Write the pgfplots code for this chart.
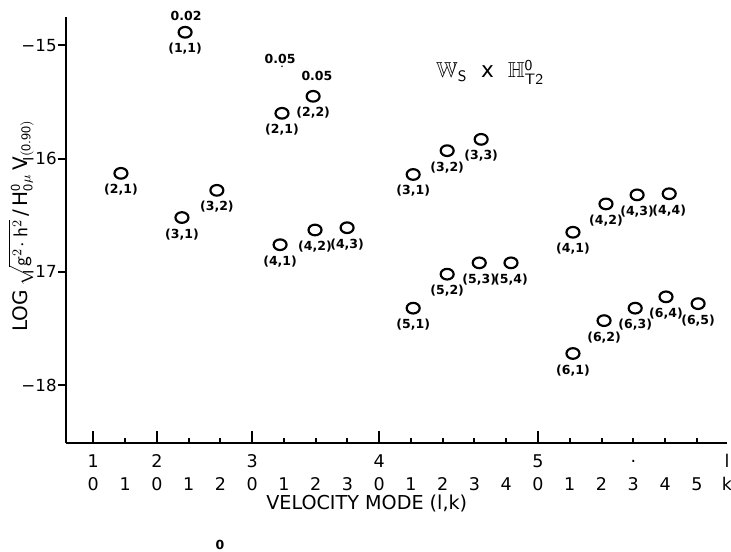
\documentclass[border=0pt]{standalone}
\usepackage{pgfplots}
\pgfplotsset{compat=1.18}
\usepackage{amssymb}
\usepackage{fontspec}
\setmainfont{DejaVu Sans}
% two-row tick label: l on top, k below
\newcommand{\tl}[2]{\begin{tabular}{@{}c@{}}\strut#1\\[1.2pt]\strut#2\end{tabular}}
\newcommand{\lblfont}{\fontsize{7.5}{8}\selectfont\bfseries}

\pgfplotstableread{
x     y       lab
0.87  -16.13  (2,1)
2.89  -14.885 (1,1)
2.79  -16.52  (3,1)
3.89  -16.28  (3,2)
5.94  -15.60  (2,1)
6.92  -15.45  (2,2)
5.88  -16.76  (4,1)
6.98  -16.63  (4,2)
7.99  -16.61  (4,3)
10.07 -16.14  (3,1)
11.14 -15.93  (3,2)
12.21 -15.83  (3,3)
10.07 -17.32  (5,1)
11.14 -17.02  (5,2)
12.15 -16.92  (5,3)
13.15 -16.92  (5,4)
15.10 -16.65  (4,1)
16.14 -16.40  (4,2)
17.12 -16.32  (4,3)
18.13 -16.31  (4,4)
15.10 -17.72  (6,1)
16.08 -17.43  (6,2)
17.06 -17.32  (6,3)
18.03 -17.22  (6,4)
19.04 -17.28  (6,5)
}\modes

\begin{document}
\begin{tikzpicture}
\useasboundingbox (-39.6pt,-65.4pt) rectangle (399pt,265.8pt);
\begin{axis}[
    scale only axis,
    width=396.6pt, height=255.6pt,
    xmin=-0.86, xmax=19.95,
    ymin=-18.51, ymax=-14.75,
    axis x line*=bottom,
    axis y line*=left,
    axis line style={line width=1.4pt},
    clip=false,
    tick align=outside,
    major tick length=4.8pt,
    major x tick style={draw=none},
    y tick style={line width=1.2pt, black},
    xtick={0,1,...,19,19.95},
    xticklabels={\tl{1}{0},\tl{}{1},\tl{2}{0},\tl{}{1},\tl{}{2},
                 \tl{3}{0},\tl{}{1},\tl{}{2},\tl{}{3},
                 \tl{4}{0},\tl{}{1},\tl{}{2},\tl{}{3},\tl{}{4},
                 \tl{5}{0},\tl{}{1},\tl{}{2},\tl{·}{3},\tl{}{4},\tl{}{5},
                 \tl{l}{k}},
    x tick label style={inner sep=0.8pt, font=\fontsize{10.5}{12.6}\selectfont},
    ytick={-18,-17,-16,-15},
    yticklabels={−18,−17,−16,−15},
    y tick label style={inner sep=0.6pt, font=\fontsize{10}{12}\selectfont},
    xlabel={VELOCITY MODE (l,k)},
    xlabel style={at={(axis description cs:0.455,0)}, anchor=center,
                  yshift=-36pt, font=\fontsize{11.5}{13}\selectfont},
    ylabel={LOG\,$\sqrt{\mathsf{g}^2\!\cdot\mathsf{h}^2}$\,/\,H$_{\mathsf{0}}^{\mathsf{0}}{}_{\mu}$\,V$_{\mathsf{(0.90)}}$},
    ylabel style={at={(axis description cs:-0.068,0.51)}, anchor=center,
                  inner sep=0pt, font=\fontsize{12}{14}\selectfont},
  ]
% PLOT: modes with their labels
\addplot[only marks, black, mark=o, mark size=3.9pt,
         mark options={line width=1.3pt, yscale=0.82},
         nodes near coords, point meta=explicit symbolic,
         every node near coord/.style={anchor=center, yshift=-10pt,
                                       font=\lblfont, inner sep=0pt}]
  table[x=x, y=y, meta=lab] {\modes};
% notes over some points
\node[font=\lblfont] at (axis cs:2.92,-14.745) {0.02};
\node[font=\lblfont] at (axis cs:5.88,-15.12) {0.05};
\fill (axis cs:5.94,-15.185) circle (0.5pt);
\node[font=\lblfont] at (axis cs:7.04,-15.27) {0.05};
\node[font=\fontsize{13}{15}\selectfont] at (axis cs:12.49,-15.24)
  {$\mathbb{W}_{\mathsf{S}}$ \ x \ $\mathbb{H}^{\mathsf{0}}_{\mathsf{T2}}$};
\node[font=\lblfont] at (axis cs:3.99,-19.41) {0};
% x ticks point up into the plot
\pgfplotsinvokeforeach{0,2,5,9,14}{
  \draw[line width=1.2pt] (axis cs:#1,-18.51) -- ++(0pt,7.2pt);
}
\pgfplotsinvokeforeach{1,3,4,6,7,8,10,11,12,13,15,16,17,18,19}{
  \draw[line width=1.2pt] (axis cs:#1,-18.51) -- ++(0pt,2.8pt);
}
\end{axis}
\end{tikzpicture}
\end{document}
